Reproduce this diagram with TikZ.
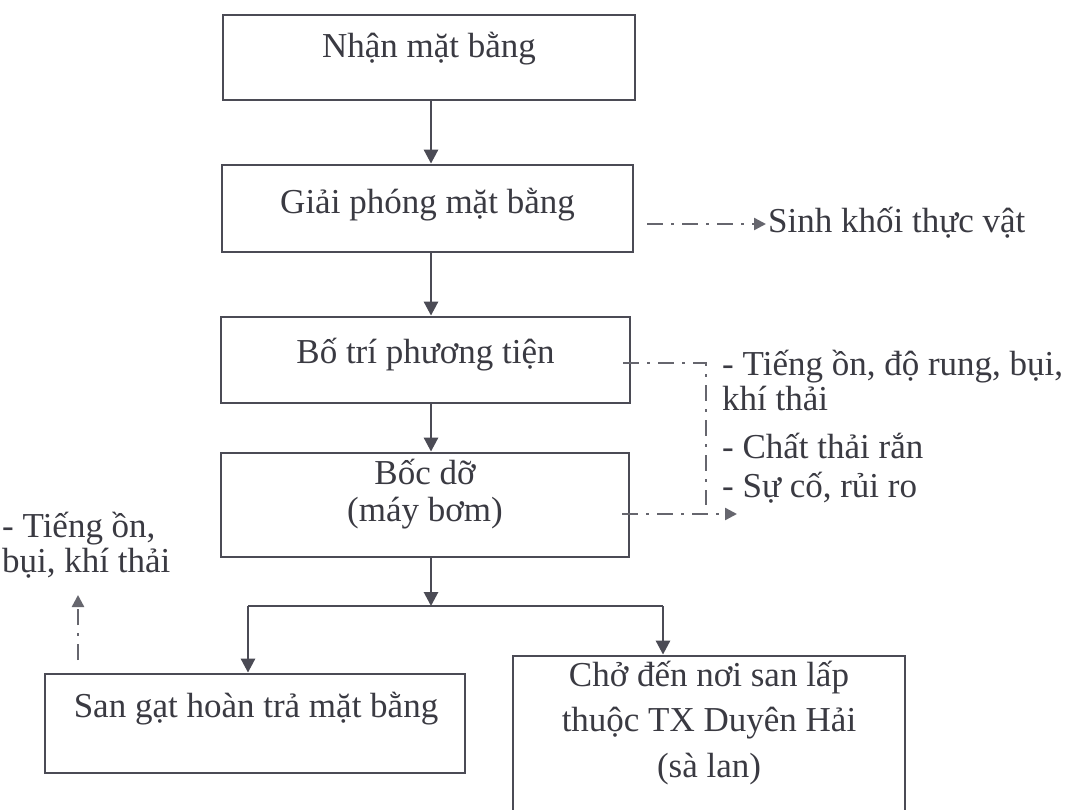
\documentclass[tikz,border=0pt]{standalone}
\usepackage{fontspec}
\setmainfont{Liberation Serif}
\usetikzlibrary{arrows.meta,calc}
\definecolor{ln}{HTML}{4B4B55}
\definecolor{tx}{HTML}{3A3A42}
\definecolor{dl}{HTML}{66666E}
\begin{document}
\begin{tikzpicture}[x=1pt,y=-1pt,
  box/.style={draw=ln, line width=2.8pt, inner sep=0pt},
  txt/.style={text=tx, font=\fontsize{35}{38}\selectfont, inner sep=0pt, align=center},
  side/.style={text=tx, font=\fontsize{35}{38}\selectfont, inner sep=0pt, anchor=base west},
  flow/.style={draw=ln, line width=2.8pt, -{Triangle[length=14pt,width=14pt]}},
  link/.style={draw=ln, line width=2.8pt},
  dd/.style={draw=dl, line width=2.4pt, dash pattern=on 16pt off 8pt on 3pt off 8pt},
  ddarrow/.style={dd, -{Triangle[length=12pt,width=12pt]}}]
\useasboundingbox (0,0) rectangle (1066,809);
\clip (0,0) rectangle (1066,809);
\fill[white] (0,0) rectangle (1066,809);

% boxes
\node[box, minimum width=412pt, minimum height=85pt] (b1) at (429,57.5) {};
\node[box, minimum width=411pt, minimum height=87pt] (b2) at (427.5,208.5) {};
\node[box, minimum width=409pt, minimum height=86pt] (b3) at (425.5,360) {};
\node[box, minimum width=408pt, minimum height=104pt] (b4) at (425,505) {};
\node[box, minimum width=420pt, minimum height=99pt] (b5) at (255,723.5) {};
\node[box, minimum width=392pt, minimum height=204pt] (b6) at (709,758) {};

% box texts
\node[txt, anchor=base] (t1) at (429,57) {Nhận mặt bằng};
\node[txt, anchor=base] (t2) at (427.5,213) {Giải phóng mặt bằng};
\node[txt, anchor=base] (t3) at (425.5,363) {Bố trí phương tiện};
\node[txt, anchor=base, font=\fontsize{35}{37}\selectfont] (t4) at (425,521) {Bốc dỡ\\(máy bơm)};
\node[txt, anchor=base] (t5) at (256,717) {San gạt hoàn trả mặt bằng};
\node[txt, anchor=base, font=\fontsize{35}{45.5}\selectfont] (t6) at (709,777) {Chở đến nơi san lấp\\thuộc TX Duyên Hải\\(sà lan)};

% side texts
\node[side] (sk) at (768,232) {Sinh khối thực vật};
\node[side] (r1) at (722,375) {- Tiếng ồn, độ rung, bụi,};
\node[side] (r2) at (722,410) {khí thải};
\node[side] (r3) at (722,458) {- Chất thải rắn};
\node[side] (r4) at (722,497) {- Sự cố, rủi ro};
\node[side] (l1) at (2,537) {- Tiếng ồn,};
\node[side] (l2) at (2,572) {bụi, khí thải};

% main flow
\coordinate (ax) at (431,0);
\draw[flow] (b1.south -| ax) -- (b2.north -| ax);
\draw[flow] (b2.south -| ax) -- (b3.north -| ax);
\draw[flow] (b3.south -| ax) -- (b4.north -| ax);
\coordinate (sl) at (248,606);
\coordinate (sr) at (663,606);
\draw[flow] (b4.south -| ax) -- (sl -| ax);
\draw[link] (sl) -- (sr);
\draw[flow] (sl) -- (sl |- b5.north);
\draw[flow] (sr) -- (sr |- b6.north);

% dashed connectors
\coordinate (s2a) at (647,224);
\coordinate (s2b) at (766,224);
\draw[ddarrow] (s2a) -- (s2b);
\coordinate (v1) at (706,505);
\draw[dd] ([xshift=-8pt,yshift=-3pt]b3.east) -| (v1);
\coordinate (s4) at (737,514);
\draw[ddarrow] ([xshift=-8pt,yshift=-9pt]b4.east) -- (s4);
\coordinate (u1) at (78,660);
\coordinate (u2) at (78,595);
\draw[ddarrow] (u1) -- (u2);
\end{tikzpicture}
\end{document}
